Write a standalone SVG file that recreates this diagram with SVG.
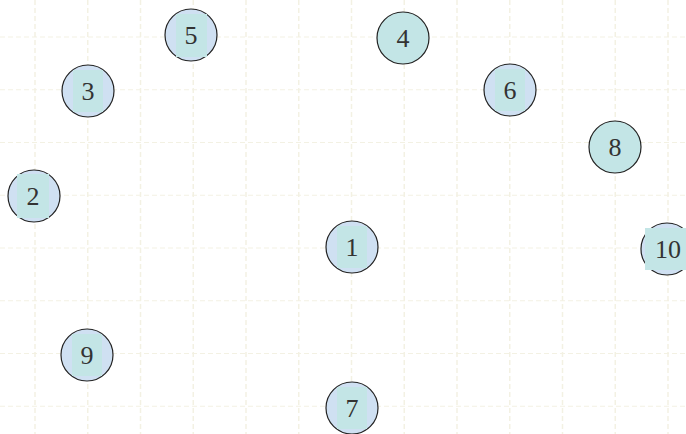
<svg xmlns="http://www.w3.org/2000/svg" width="686" height="434" viewBox="0 0 686 434">
<style>
.grid line{stroke:#f3f1e3;stroke-width:1;stroke-dasharray:5 3}
.grid .v{stroke-width:1.5}
.node circle{fill:#cfe0f2;stroke:#222;stroke-width:1.2}
.node.t circle{fill:#c3e5e6}
.node rect{fill:#c3e5e6}
.node text{font-family:'Liberation Serif',serif;font-size:26px;fill:#333;text-anchor:middle}
</style>
<rect width="686" height="434" fill="#ffffff"/>
<g class="grid">
<line class="v" x1="35" y1="0" x2="35" y2="434"/>
<line class="v" x1="87.75" y1="0" x2="87.75" y2="434"/>
<line class="v" x1="140.5" y1="0" x2="140.5" y2="434"/>
<line class="v" x1="193.25" y1="0" x2="193.25" y2="434"/>
<line class="v" x1="246" y1="0" x2="246" y2="434"/>
<line class="v" x1="298.75" y1="0" x2="298.75" y2="434"/>
<line class="v" x1="351.5" y1="0" x2="351.5" y2="434"/>
<line class="v" x1="404.25" y1="0" x2="404.25" y2="434"/>
<line class="v" x1="457" y1="0" x2="457" y2="434"/>
<line class="v" x1="509.75" y1="0" x2="509.75" y2="434"/>
<line class="v" x1="562.5" y1="0" x2="562.5" y2="434"/>
<line class="v" x1="615.25" y1="0" x2="615.25" y2="434"/>
<line class="v" x1="668" y1="0" x2="668" y2="434"/>
<line x1="0" y1="37" x2="686" y2="37"/>
<line x1="0" y1="89.75" x2="686" y2="89.75"/>
<line x1="0" y1="142.5" x2="686" y2="142.5"/>
<line x1="0" y1="195.25" x2="686" y2="195.25"/>
<line x1="0" y1="248" x2="686" y2="248"/>
<line x1="0" y1="300.75" x2="686" y2="300.75"/>
<line x1="0" y1="353.5" x2="686" y2="353.5"/>
<line x1="0" y1="406.25" x2="686" y2="406.25"/>
</g>
<g id="connectors"></g>
<g id="node1" class="node"><circle cx="352" cy="247" r="26"/><rect x="337" y="226" width="30" height="42"/><text x="352" y="256">1</text></g>
<g id="node2" class="node"><circle cx="34" cy="196" r="26"/><rect x="17" y="174" width="32" height="44"/><text x="33" y="205">2</text></g>
<g id="node3" class="node"><circle cx="88" cy="91" r="26"/><rect x="73" y="70" width="30" height="42"/><text x="88" y="100">3</text></g>
<g id="node4" class="node t"><circle cx="403" cy="38" r="26"/><text x="403" y="47">4</text></g>
<g id="node5" class="node"><circle cx="191" cy="35" r="26"/><rect x="176" y="14" width="31" height="43"/><text x="191" y="44">5</text></g>
<g id="node6" class="node"><circle cx="510" cy="90" r="26"/><rect x="495" y="69" width="30" height="42"/><text x="510" y="99">6</text></g>
<g id="node7" class="node"><circle cx="352" cy="408" r="26"/><rect x="337" y="387" width="30" height="42"/><text x="352" y="417">7</text></g>
<g id="node8" class="node t"><circle cx="615" cy="147" r="26"/><text x="615" y="156">8</text></g>
<g id="node9" class="node"><circle cx="87" cy="355" r="26"/><rect x="72" y="334" width="30" height="42"/><text x="87" y="364">9</text></g>
<g id="node10" class="node"><circle cx="667" cy="249" r="26"/><rect x="645" y="228" width="44" height="42"/><text x="668" y="258">10</text></g>
</svg>
